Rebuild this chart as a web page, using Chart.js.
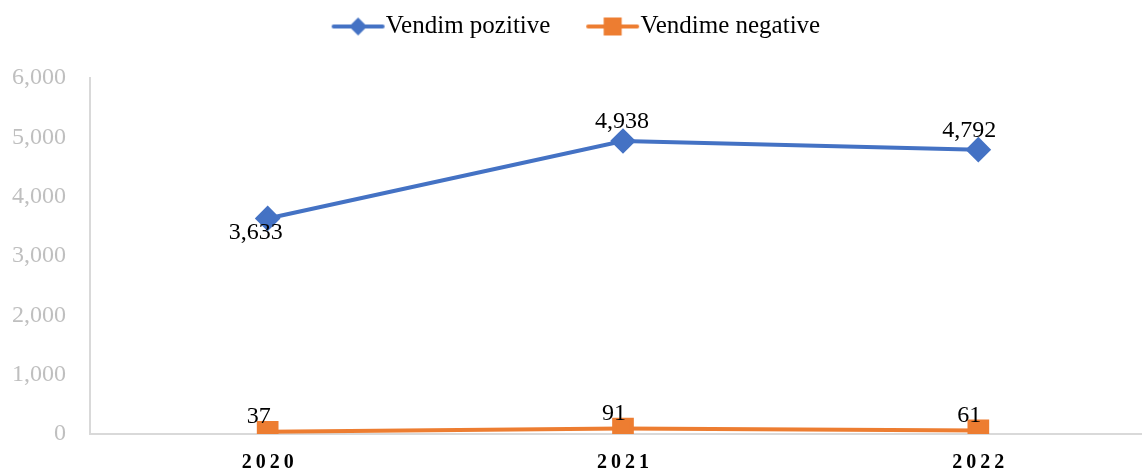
<!DOCTYPE html>
<html>
<head>
<meta charset="utf-8">
<script src="https://cdn.jsdelivr.net/npm/chart.js@4/dist/chart.umd.min.js"></script>
<style>
  html, body { margin: 0; padding: 0; background: #fff; overflow: hidden; }
</style>
</head>
<body>
<canvas id="chart" width="1160" height="471"></canvas>
<script>
const years = ['2020', '2021', '2022'];
const positive = [3633, 4938, 4792];
const negative = [37, 91, 61];
const yTicks = [0, 1000, 2000, 3000, 4000, 5000, 6000];

const BLUE = '#4472C4';
const ORANGE = '#ED7D31';
const FONT = "'Liberation Serif', 'Times New Roman', serif";

// legend swatch: short line with the marker in the middle
// (left part of the image is empty so the swatch sits close to its text)
function swatch(color, shape) {
  const c = document.createElement('canvas');
  c.width = 94;
  c.height = 22;
  const ctx = c.getContext('2d');
  ctx.strokeStyle = color;
  ctx.lineWidth = 4;
  ctx.lineCap = 'round';
  ctx.beginPath();
  ctx.moveTo(41, 11);
  ctx.lineTo(90, 11);
  ctx.stroke();
  ctx.fillStyle = color;
  ctx.beginPath();
  if (shape === 'diamond') {
    ctx.moveTo(65.5, 2); ctx.lineTo(74.5, 11); ctx.lineTo(65.5, 20); ctx.lineTo(56.5, 11);
  } else {
    ctx.rect(56.5, 2, 18, 18);
  }
  ctx.fill();
  return c;
}

const legendIcons = [swatch(BLUE, 'diamond'), swatch(ORANGE, 'square')];

// extra room under the legend, and nudge it a bit left
const legendLayout = {
  id: 'legendLayout',
  beforeInit(chart) {
    const legend = chart.legend;
    const fit = legend.fit;
    legend.fit = function () {
      fit.call(this);
      this.height += 29;
    };
    const draw = legend.draw;
    legend.draw = function () {
      this.ctx.save();
      this.ctx.translate(-15, 0);
      draw.call(this);
      this.ctx.restore();
    };
  }
};

// draws the value above / below each point
const valueLabels = {
  id: 'valueLabels',
  afterDatasetsDraw(chart) {
    const ctx = chart.ctx;
    ctx.save();
    ctx.font = `24px ${FONT}`;
    ctx.fillStyle = '#000';
    ctx.textAlign = 'center';
    ctx.textBaseline = 'middle';
    chart.data.datasets.forEach((ds, di) => {
      const meta = chart.getDatasetMeta(di);
      meta.data.forEach((pt, i) => {
        const below = di === 0 && i === 0;
        const dy = below ? 14 : (di === 0 ? -19 : -15);
        let dx = -9;
        if (below) dx = -12;
        if (di === 0 && i === 1) dx = -1;
        ctx.fillText(ds.data[i].toLocaleString('en-US'), pt.x + dx, pt.y + dy);
      });
    });
    ctx.restore();
  }
};

function displayChart() {
  const ctx = document.getElementById('chart');

  new Chart(ctx, {
    type: 'line',
    data: {
      labels: years,
      datasets: [
        {
          label: 'Vendim pozitive',
          data: positive,
          borderColor: BLUE,
          backgroundColor: BLUE,
          borderWidth: 4,
          pointStyle: 'rectRot',
          pointRadius: 10,
          pointHoverRadius: 10,
          tension: 0
        },
        {
          label: 'Vendime negative',
          data: negative,
          borderColor: ORANGE,
          backgroundColor: ORANGE,
          borderWidth: 4,
          pointStyle: 'rect',
          pointRadius: 12.5,
          pointHoverRadius: 12.5,
          tension: 0
        }
      ]
    },
    options: {
      responsive: false,
      animation: false,
      layout: { autoPadding: false, padding: { top: 4, right: 4, left: 0, bottom: 0 } },
      plugins: {
        tooltip: { enabled: false },
        legend: {
          position: 'top',
          labels: {
            usePointStyle: true,
            pointStyleWidth: 67.5,
            padding: 10,
            color: '#000',
            font: { family: FONT, size: 25 },
            generateLabels(chart) {
              return chart.data.datasets.map((ds, i) => ({
                text: ds.label,
                fillStyle: ds.borderColor,
                strokeStyle: ds.borderColor,
                lineWidth: 0,
                pointStyle: legendIcons[i],
                hidden: false,
                datasetIndex: i
              }));
            }
          }
        }
      },
      scales: {
        x: {
          offset: true,
          grid: { display: false },
          border: { display: true, color: '#d9d9d9', width: 2 },
          ticks: {
            color: '#000',
            padding: 9,
            font: { family: FONT, size: 20, weight: 'bold' },
            callback: (v, i) => years[i].split('').join('\u2009')
          },
          afterFit: (s) => {
            s.height = 37;
            s.paddingLeft = 0;
            s.paddingRight = 0;
          }
        },
        y: {
          min: 0,
          max: 6000,
          grid: { display: false },
          border: { display: true, color: '#d9d9d9', width: 2 },
          afterBuildTicks: (s) => { s.ticks = yTicks.map(v => ({ value: v })); },
          ticks: {
            color: '#bfbfbf',
            padding: 16,
            font: { family: FONT, size: 24 },
            callback: (v) => v.toLocaleString('en-US')
          },
          afterFit: (s) => { s.width = 90; }
        }
      }
    },
    plugins: [valueLabels, legendLayout]
  });
}

displayChart();
</script>
</body>
</html>
